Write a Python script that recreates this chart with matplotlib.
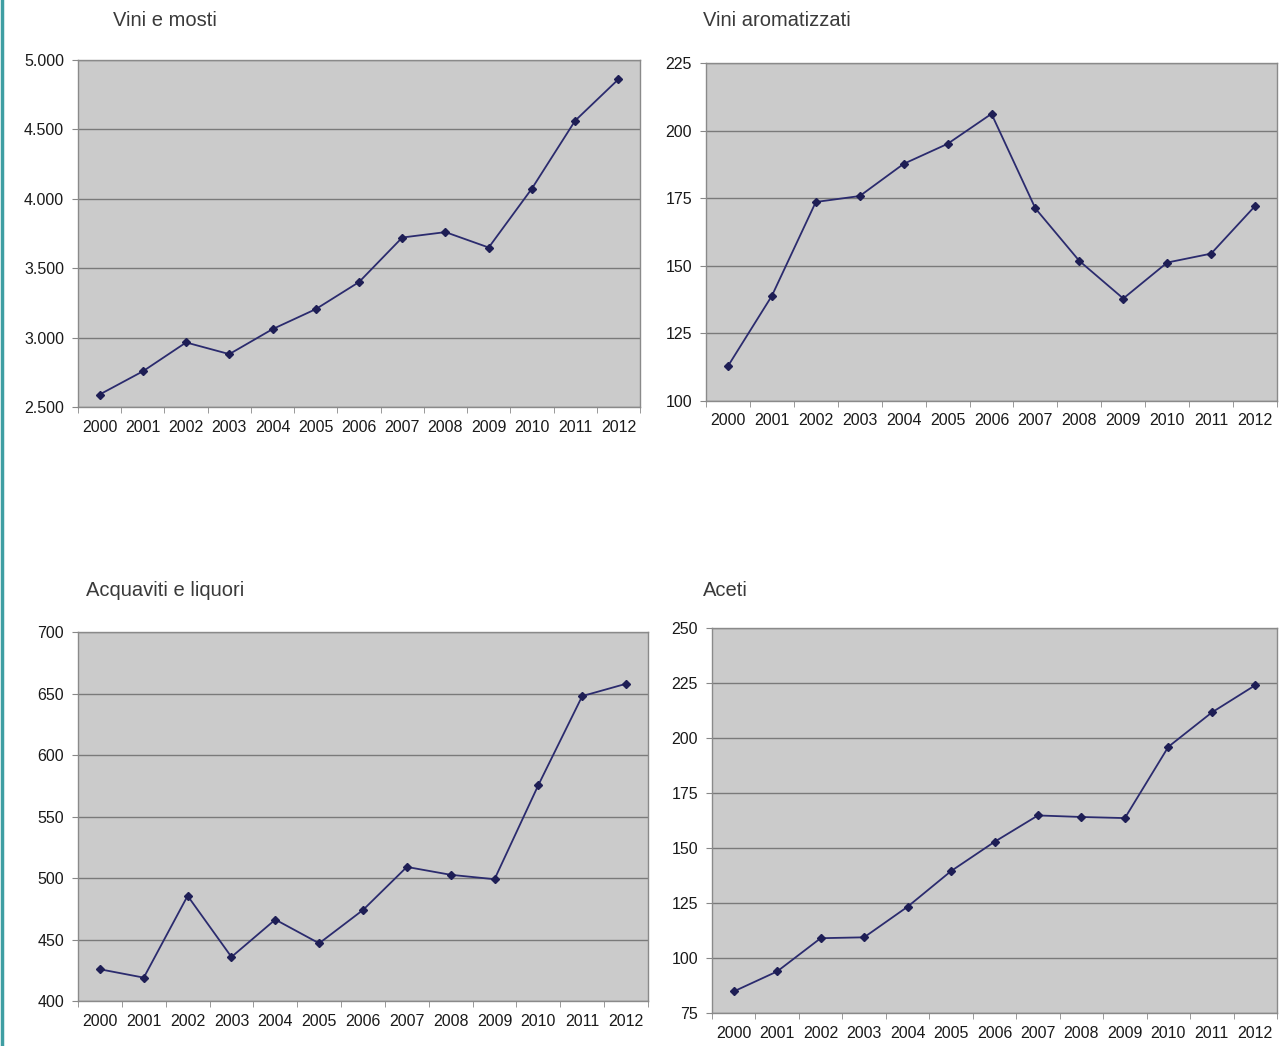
import matplotlib
matplotlib.use("Agg")
import matplotlib.pyplot as plt
from matplotlib.lines import Line2D
from matplotlib.ticker import FuncFormatter, FixedLocator
import numpy as np

years = ["2000", "2001", "2002", "2003", "2004", "2005", "2006",
         "2007", "2008", "2009", "2010", "2011", "2012"]

vini_mosti = [2590, 2757, 2965, 2881, 3061, 3205, 3400, 3721, 3760, 3649, 4074, 4563, 4861]
vini_aromatizzati = [112.9, 138.9, 173.6, 175.8, 187.7, 195.1, 206.2, 171.2, 151.8, 137.9, 151.2, 154.5, 172.1]
acquaviti_liquori = [425.8, 419.0, 485.5, 435.8, 466.2, 446.9, 474.0, 509.0, 502.6, 499.0, 575.6, 647.9, 657.9]
aceti = [84.8, 93.9, 109.0, 109.4, 123.3, 139.5, 152.8, 164.8, 164.1, 163.6, 196.0, 211.6, 224.0]

titles = ["Vini e mosti", "Vini aromatizzati", "Acquaviti e liquori", "Aceti"]
series = [vini_mosti, vini_aromatizzati, acquaviti_liquori, aceti]
yticks = [
    [2500, 3000, 3500, 4000, 4500, 5000],
    [100, 125, 150, 175, 200, 225],
    [400, 450, 500, 550, 600, 650, 700],
    [75, 100, 125, 150, 175, 200, 225, 250],
]

W, H = 1283, 1046
fig = plt.figure(figsize=(W / 100, H / 100), dpi=100)
plt.rcParams['font.family'] = ['Liberation Sans', 'DejaVu Sans']

# axes boxes in pixel coords: left, top, right, bottom
boxes = [
    (78, 60, 640, 407),
    (706, 63, 1277, 401),
    (78, 632, 648, 1001),
    (712, 628, 1277, 1013),
]
title_pos = [(113, 20), (703, 20), (86, 590), (703, 590)]

def thousands(v, pos):
    s = f"{int(round(v)):,}".replace(",", ".")
    return s

line_color = "#2b2b6e"
for i in range(4):
    l, t, r, b = boxes[i]
    ax = fig.add_axes([l / W, 1 - b / H, (r - l) / W, (b - t) / H])
    ax.set_facecolor("#cbcbcb")
    x = np.arange(len(years))
    ax.plot(x, series[i], color=line_color, lw=1.3, marker="D", ms=4,
            markerfacecolor="#1e1e55", markeredgecolor="#1e1e55")
    ax.set_xlim(-0.5, len(years) - 0.5)
    ax.set_ylim(yticks[i][0], yticks[i][-1])
    ax.set_yticks(yticks[i])
    if i == 0:
        ax.yaxis.set_major_formatter(FuncFormatter(thousands))
    ax.set_xticks(x)
    ax.set_xticklabels(years)
    ax.xaxis.set_minor_locator(FixedLocator(np.arange(-0.5, len(years), 1.0)))
    ax.tick_params(axis="x", which="major", length=0, pad=9, labelsize=11.5, colors="#1a1a1a")
    ax.tick_params(axis="x", which="minor", length=4, color="#888888", direction="out")
    ax.tick_params(axis="y", length=4, color="#888888", labelsize=11.5, colors="#1a1a1a", pad=6)
    ax.grid(axis="y", color="#7a7a7a", lw=1.0)
    ax.set_axisbelow(True)
    for sp in ax.spines.values():
        sp.set_color("#8a8a8a")
        sp.set_linewidth(1.0)
    tx, ty = title_pos[i]
    fig.text(tx / W, 1 - ty / H, titles[i], fontsize=14.5, color="#3a3a3a",
             ha="left", va="center")

fig.add_artist(Line2D([2 / W, 2 / W], [0, 1], color="#3f9ea3", lw=2.5,
                      transform=fig.transFigure))

fig.savefig("out.png", dpi=100)
